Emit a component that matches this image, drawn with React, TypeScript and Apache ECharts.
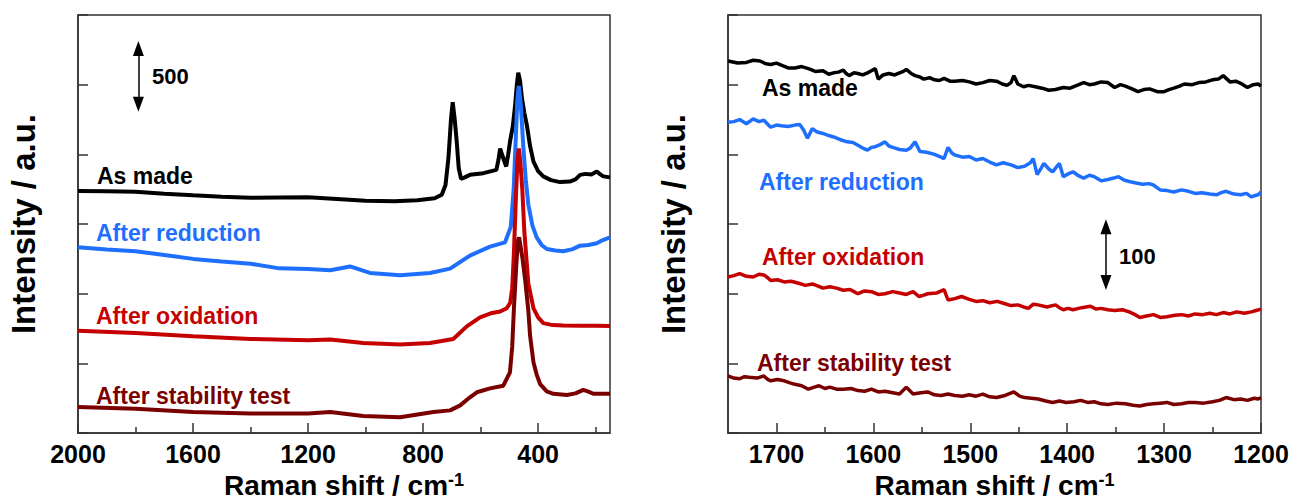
import React, { useEffect, useRef } from "react";
import * as echarts from "echarts";

const FONT = '"Liberation Sans", Arial, Helvetica, sans-serif';

// ---- Left panel (wide range) data: [Raman shift, intensity] ----
const asMadeWide: number[][] = [
  [2000, 1738], [1900, 1736], [1800, 1732], [1700, 1718], [1600, 1706], [1500, 1696], [1400, 1688],
  [1300, 1690], [1200, 1692], [1100, 1680], [1000, 1668], [900, 1664], [820, 1670], [760, 1685],
  [735, 1710], [722, 1780], [712, 1970], [703, 2250], [697, 2374], [690, 2250], [683, 2092],
  [676, 1900], [668, 1825], [655, 1835], [637, 1853], [590, 1865], [545, 1889], [538, 1960],
  [532, 2042], [524, 1990], [511, 1913], [504, 2000], [497, 2101], [488, 2200], [480, 2350],
  [474, 2500], [469, 2586], [463, 2530], [456, 2400], [448, 2300], [439, 2208], [428, 2060],
  [416, 1948], [400, 1880], [382, 1842], [355, 1815], [324, 1801], [290, 1805], [270, 1820],
  [254, 1853], [235, 1860], [215, 1855], [196, 1877], [185, 1858], [173, 1842], [150, 1835],
];
const reductionWide: number[][] = [
  [2000, 1333], [1900, 1318], [1800, 1305], [1700, 1278], [1600, 1250], [1500, 1232], [1400, 1215],
  [1300, 1182], [1200, 1178], [1123, 1168], [1054, 1196], [985, 1149], [880, 1133], [776, 1149],
  [706, 1180], [637, 1274], [567, 1338], [515, 1369], [495, 1480], [485, 1750], [478, 2100],
  [472, 2400], [467, 2491], [460, 2350], [451, 2042], [443, 1820], [434, 1640], [420, 1490],
  [405, 1404], [388, 1350], [370, 1321], [340, 1310], [312, 1305], [280, 1320], [254, 1345],
  [225, 1350], [196, 1362], [175, 1385], [150, 1404],
];
const oxidationWide: number[][] = [
  [2000, 735], [1800, 718], [1600, 695], [1400, 676], [1200, 667], [1123, 672], [1008, 647],
  [880, 636], [776, 647], [695, 675], [648, 766], [602, 830], [560, 862], [532, 872], [509, 896],
  [497, 935], [490, 1040], [484, 1300], [478, 1650], [472, 1950], [467, 2042], [462, 1950],
  [455, 1750], [448, 1450], [434, 1073], [416, 895], [400, 830], [382, 789], [350, 775],
  [312, 772], [250, 770], [196, 771], [150, 768],
];
const stabilityWide: number[][] = [
  [2000, 187], [1800, 175], [1600, 151], [1400, 140], [1200, 140], [1123, 151], [1008, 123],
  [880, 114], [764, 151], [706, 163], [671, 199], [637, 257], [613, 293], [567, 321], [521, 340],
  [498, 435], [490, 620], [484, 900], [476, 1200], [470, 1380], [466, 1404], [461, 1340],
  [454, 1250], [445, 1099], [434, 880], [428, 700], [416, 506], [405, 420], [393, 352],
  [370, 300], [347, 282], [300, 274], [270, 285], [243, 310], [225, 298], [208, 282], [150, 282],
];

// ---- Right panel (1200-1750) data ----
const asMadeZoom: number[][] = [
  [1750, 534], [1740, 531], [1731, 532], [1724, 535], [1717, 534], [1711, 530], [1706, 529], [1700, 531],
  [1695, 528], [1688, 524], [1681, 524], [1674, 526], [1667, 523], [1660, 519], [1652, 520], [1646, 515],
  [1641, 517], [1636, 518], [1631, 521], [1628, 516], [1625, 513], [1620, 517], [1616, 516], [1611, 514],
  [1606, 517], [1602, 520], [1598, 523], [1595, 508], [1590, 514], [1584, 516], [1578, 514], [1573, 517],
  [1569, 519], [1566, 522], [1561, 516], [1557, 513], [1552, 511], [1548, 508], [1542, 510], [1537, 507],
  [1532, 506], [1527, 509], [1521, 505], [1516, 505], [1508, 506], [1501, 504], [1494, 501], [1487, 503],
  [1480, 506], [1473, 505], [1467, 501], [1462, 499], [1458, 503], [1455, 513], [1451, 501], [1445, 497],
  [1440, 499], [1433, 497], [1426, 495], [1419, 492], [1412, 493], [1404, 496], [1397, 495], [1390, 499],
  [1383, 503], [1377, 500], [1372, 501], [1365, 504], [1358, 503], [1351, 496], [1345, 500], [1340, 498],
  [1333, 494], [1327, 490], [1321, 493], [1315, 494], [1307, 490], [1300, 490], [1295, 493], [1290, 495],
  [1284, 498], [1279, 501], [1271, 500], [1264, 503], [1257, 504], [1250, 507], [1244, 508], [1239, 513],
  [1232, 504], [1226, 505], [1221, 502], [1214, 496], [1208, 500], [1203, 501], [1200, 498],
];
const reductionZoom: number[][] = [
  [1750, 446], [1744, 447], [1738, 450], [1731, 444], [1724, 451], [1718, 447], [1713, 449], [1706, 439],
  [1700, 442], [1695, 441], [1688, 440], [1681, 442], [1676, 443], [1672, 435], [1668, 423], [1663, 437],
  [1658, 432], [1652, 430], [1646, 427], [1641, 425], [1634, 421], [1627, 418], [1621, 417], [1616, 413],
  [1611, 409], [1606, 406], [1602, 410], [1598, 411], [1593, 414], [1588, 418], [1584, 412], [1580, 410],
  [1573, 407], [1566, 406], [1562, 409], [1557, 418], [1552, 404], [1545, 403], [1537, 400], [1532, 397],
  [1527, 394], [1523, 410], [1519, 402], [1516, 399], [1508, 396], [1501, 397], [1494, 392], [1487, 394],
  [1480, 389], [1473, 385], [1466, 388], [1458, 385], [1451, 381], [1444, 383], [1438, 388], [1435, 394],
  [1431, 371], [1427, 380], [1424, 387], [1419, 379], [1415, 375], [1411, 382], [1408, 387], [1404, 368],
  [1399, 372], [1394, 375], [1388, 369], [1383, 366], [1377, 370], [1372, 368], [1365, 362], [1358, 364],
  [1352, 366], [1347, 368], [1341, 363], [1336, 361], [1329, 359], [1322, 357], [1316, 358], [1311, 356],
  [1307, 352], [1304, 349], [1297, 348], [1290, 346], [1282, 349], [1275, 347], [1268, 344], [1261, 345],
  [1253, 343], [1246, 342], [1241, 345], [1236, 347], [1228, 343], [1221, 342], [1215, 344], [1210, 339],
  [1206, 341], [1203, 342], [1200, 346],
];
const oxidationZoom: number[][] = [
  [1750, 224], [1744, 226], [1738, 229], [1731, 225], [1724, 224], [1718, 228], [1713, 227], [1709, 223],
  [1706, 219], [1699, 220], [1692, 217], [1685, 218], [1677, 215], [1670, 212], [1663, 214], [1657, 211],
  [1652, 208], [1645, 210], [1638, 208], [1631, 205], [1624, 206], [1620, 203], [1616, 200], [1609, 204],
  [1602, 203], [1595, 199], [1588, 200], [1580, 203], [1573, 201], [1566, 199], [1559, 203], [1553, 196],
  [1548, 198], [1544, 200], [1535, 201], [1527, 206], [1523, 191], [1516, 193], [1509, 196], [1501, 192],
  [1494, 189], [1487, 190], [1480, 187], [1472, 189], [1465, 186], [1458, 183], [1451, 184], [1445, 181],
  [1440, 179], [1435, 185], [1430, 184], [1421, 181], [1412, 184], [1408, 180], [1404, 177], [1399, 179],
  [1394, 177], [1385, 180], [1376, 182], [1370, 178], [1365, 179], [1358, 177], [1351, 176], [1343, 177],
  [1336, 174], [1330, 170], [1325, 166], [1318, 168], [1311, 170], [1304, 166], [1297, 167], [1289, 169],
  [1282, 170], [1275, 168], [1268, 171], [1260, 170], [1253, 172], [1246, 170], [1239, 173], [1232, 171],
  [1225, 174], [1217, 172], [1210, 174], [1205, 176], [1200, 178],
];
const stabilityZoom: number[][] = [
  [1750, 82], [1744, 79], [1738, 78], [1733, 81], [1728, 80], [1720, 79], [1713, 82], [1709, 77],
  [1706, 75], [1699, 77], [1692, 75], [1686, 72], [1681, 70], [1674, 68], [1667, 63], [1661, 66],
  [1656, 68], [1650, 64], [1645, 66], [1638, 63], [1631, 63], [1623, 64], [1616, 61], [1609, 60],
  [1602, 63], [1595, 59], [1588, 60], [1580, 58], [1573, 56], [1566, 66], [1559, 56], [1551, 58],
  [1544, 59], [1537, 55], [1530, 54], [1523, 56], [1516, 54], [1508, 53], [1501, 55], [1494, 53],
  [1487, 56], [1480, 52], [1473, 51], [1464, 54], [1455, 59], [1449, 53], [1444, 51], [1437, 50],
  [1430, 49], [1422, 46], [1415, 44], [1408, 46], [1401, 44], [1393, 45], [1386, 47], [1379, 44],
  [1372, 45], [1365, 42], [1358, 41], [1349, 43], [1340, 42], [1332, 40], [1325, 39], [1318, 41],
  [1311, 42], [1304, 43], [1297, 44], [1290, 41], [1282, 42], [1275, 44], [1268, 44], [1259, 43],
  [1250, 45], [1243, 47], [1236, 51], [1228, 48], [1221, 49], [1214, 47], [1207, 50], [1203, 49],
  [1200, 51],
];

// ---- Ticks ----
const wideMajorTicks = [400, 800, 1200, 1600, 2000];
const wideMinorTicks = [200, 600, 1000, 1400, 1800];
const zoomMajorTicks = [1200, 1300, 1400, 1500, 1600, 1700];
const zoomMinorTicks = [1250, 1350, 1450, 1550, 1650];

// ---- Labels and colours ----
const seriesNames = ["As made", "After reduction", "After oxidation", "After stability test"];
const seriesColors = ["#000000", "#1f6fff", "#c40000", "#7a0000"];

// Scale bars (tip-to-tip range in data units)
const wideScaleBar = { x: 1790, y0: 2310, y1: 2810, label: "500", inset: 50 };
const zoomScaleBar = { x: 1360, y0: 206, y1: 306, label: "100", inset: 10 };

export default function App() {
  const ref = useRef<HTMLDivElement>(null);

  useEffect(() => {
    document.body.style.margin = "0";
    if (!ref.current) return;
    const chart = echarts.init(ref.current, undefined, { renderer: "svg" });

    const axisColor = "#333";
    const tickLabel = { fontSize: 25, fontWeight: "bold" as const, color: "#000", fontFamily: FONT };
    const xName = {
      fontSize: 28,
      fontWeight: "bold" as const,
      color: "#000",
      fontFamily: FONT,
      rich: {
        sup: { fontSize: 18, fontWeight: "bold" as const, color: "#000", fontFamily: FONT, verticalAlign: "top" as const },
      },
    };

    const mainX = (grid: number, min: number, max: number, major: number[]) => ({
      type: "value",
      gridIndex: grid,
      min,
      max,
      inverse: true,
      position: "bottom",
      name: "Raman shift / cm{sup|-1}",
      nameLocation: "middle",
      nameGap: 37,
      nameTextStyle: xName,
      axisLine: { show: true, lineStyle: { color: axisColor, width: 1.5 } },
      axisTick: { show: true, inside: true, length: 10, customValues: major, lineStyle: { color: axisColor, width: 1.5 } },
      axisLabel: { show: true, customValues: major, margin: 8, formatter: (v: number) => String(v), ...tickLabel },
      splitLine: { show: false },
    });
    const minorX = (grid: number, min: number, max: number, minor: number[]) => ({
      type: "value",
      gridIndex: grid,
      min,
      max,
      inverse: true,
      position: "bottom",
      axisLine: { show: false },
      axisTick: { show: true, inside: true, length: 6, customValues: minor, lineStyle: { color: axisColor, width: 1.5 } },
      axisLabel: { show: false },
      splitLine: { show: false },
    });
    const yAx = (grid: number, max: number, interval: number) => ({
      type: "value",
      gridIndex: grid,
      min: 0,
      max,
      interval,
      name: "Intensity / a.u.",
      nameLocation: "middle",
      nameGap: 38,
      nameTextStyle: { fontSize: 33, fontWeight: "bold", color: "#000", fontFamily: FONT },
      axisLine: { show: true, lineStyle: { color: axisColor, width: 1.5 } },
      axisTick: { show: true, inside: true, length: 10, lineStyle: { color: axisColor, width: 1.5 } },
      axisLabel: { show: false },
      splitLine: { show: false },
    });

    const lineSeries = (data: number[][], i: number, xi: number, yi: number, w: number) => ({
      type: "line",
      name: seriesNames[i] + (xi === 0 ? "" : " "),
      xAxisIndex: xi,
      yAxisIndex: yi,
      data,
      showSymbol: false,
      symbol: "none",
      lineStyle: { color: seriesColors[i], width: w },
      itemStyle: { color: seriesColors[i] },
      z: 2 + i,
    });

    const scaleBar = (bar: typeof wideScaleBar, xi: number, yi: number) => ({
      type: "scatter",
      xAxisIndex: xi,
      yAxisIndex: yi,
      data: [[bar.x, (bar.y0 + bar.y1) / 2]],
      symbolSize: 0,
      itemStyle: { color: "#000" },
      label: { show: false },
      markLine: {
        silent: true,
        symbol: ["triangle", "triangle"],
        symbolSize: [11, 15],
        label: { show: false },
        lineStyle: { color: "#000", width: 1.5, type: "solid" },
        data: [[{ coord: [bar.x, bar.y0 + bar.inset] }, { coord: [bar.x, bar.y1 - bar.inset] }]],
      },
      z: 10,
    });

    const labelFont = { fontSize: 23, fontWeight: "bold", fontFamily: FONT };
    const leftLabels = [
      [97, 176],
      [96, 233],
      [96, 316],
      [96, 396],
    ];
    const rightLabels = [
      [762, 88],
      [759, 182],
      [762, 257],
      [757, 363],
    ];
    const graphic: any[] = [];
    [leftLabels, rightLabels].forEach((pos) => {
      pos.forEach((p, i) => {
        graphic.push({
          type: "text",
          x: p[0],
          y: p[1],
          style: { text: seriesNames[i], fill: seriesColors[i], ...labelFont, verticalAlign: "middle", align: "left" },
          z: 20,
        });
      });
    });
    graphic.push({
      type: "text",
      x: 152,
      y: 76,
      style: { text: wideScaleBar.label, fill: "#000", fontSize: 22, fontWeight: "bold", fontFamily: FONT, verticalAlign: "middle", align: "left" },
      z: 20,
    });
    graphic.push({
      type: "text",
      x: 1119,
      y: 256,
      style: { text: zoomScaleBar.label, fill: "#000", fontSize: 22, fontWeight: "bold", fontFamily: FONT, verticalAlign: "middle", align: "left" },
      z: 20,
    });

    chart.setOption({
      animation: false,
      grid: [
        { left: 78, top: 15, width: 532, height: 423, show: true, borderColor: axisColor, borderWidth: 1.5, backgroundColor: "transparent" },
        { left: 728, top: 15, width: 533, height: 423, show: true, borderColor: axisColor, borderWidth: 1.5, backgroundColor: "transparent" },
      ],
      xAxis: [
        mainX(0, 150, 2000, wideMajorTicks),
        minorX(0, 150, 2000, wideMinorTicks),
        mainX(1, 1200, 1750, zoomMajorTicks),
        minorX(1, 1200, 1750, zoomMinorTicks),
      ],
      yAxis: [yAx(0, 3000, 500), yAx(1, 600, 100)],
      series: [
        lineSeries(asMadeWide, 0, 0, 0, 4),
        lineSeries(reductionWide, 1, 0, 0, 4),
        lineSeries(oxidationWide, 2, 0, 0, 4),
        lineSeries(stabilityWide, 3, 0, 0, 4),
        lineSeries(asMadeZoom, 0, 2, 1, 3.5),
        lineSeries(reductionZoom, 1, 2, 1, 3.5),
        lineSeries(oxidationZoom, 2, 2, 1, 3.5),
        lineSeries(stabilityZoom, 3, 2, 1, 3.5),
        scaleBar(wideScaleBar, 0, 0),
        scaleBar(zoomScaleBar, 2, 1),
      ],
      graphic,
    });

    return () => {
      chart.dispose();
    };
  }, []);

  return <div ref={ref} style={{ width: "1293px", height: "504px" }} />;
}
